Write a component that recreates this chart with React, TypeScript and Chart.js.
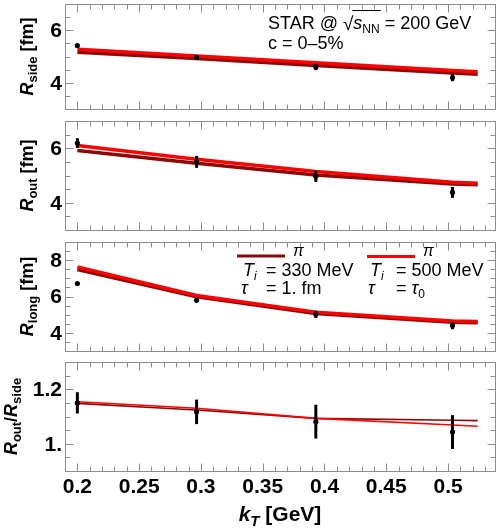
import React, { useEffect, useRef } from 'react';
import { Chart, registerables } from 'chart.js';

Chart.register(...registerables);

const W = 499;
const H = 532;
const FONT = '"Liberation Sans", Arial, sans-serif';

// ---------- data ----------
const modelKT = [0.2, 0.2965, 0.393, 0.5036, 0.524];
const dataKT = [0.2, 0.2965, 0.393, 0.5036];

const rsideData = [5.42, 4.97, 4.6, 4.2];
const rsideErr = [0.05, 0.06, 0.12, 0.14];
const rsideRed = [5.28, 5.02, 4.76, 4.47, 4.42];
const rsideDark = [5.16, 4.92, 4.66, 4.37, 4.32];

const routData = [6.19, 5.5, 4.97, 4.38];
const routErr = [0.18, 0.22, 0.21, 0.2];
const routRed = [6.1, 5.6, 5.15, 4.75, 4.72];
const routDark = [5.92, 5.45, 5.02, 4.69, 4.66];

const rlongData = [6.71, 5.79, 5.02, 4.4];
const rlongErr = [0.05, 0.05, 0.2, 0.2];
const rlongRed = [7.62, 6.06, 5.14, 4.65, 4.62];
const rlongDark = [7.48, 5.98, 5.06, 4.58, 4.55];

const ratioData = [1.15, 1.117, 1.081, 1.043];
const ratioErr = [0.039, 0.045, 0.062, 0.062];
const ratioRed = [1.154, 1.13, 1.093, 1.069, 1.064];
const ratioDark = [1.148, 1.124, 1.093, 1.086, 1.085];

const xMin = 0.19;
const xMax = 0.538;
const xTickValues = [0.2, 0.25, 0.3, 0.35, 0.4, 0.45, 0.5];
const xTickLabels = ['0.2', '0.25', '0.3', '0.35', '0.4', '0.45', '0.5'];
const xMinorStep = 0.01;

const rTickValues = [4, 6];
const rTickLabels = ['4', '6'];
const rlongTickValues = [4, 6, 8];
const rlongTickLabels = ['4', '6', '8'];
const ratioTickValues = [1.0, 1.2];
const ratioTickLabels = ['1.', '1.2'];

const DARK = '#8a0a0a';
const RED = '#ff0000';
const FRAME = '#8c8c8c';

type Seg = { t: string; font: string; dy?: number };

function segWidth(ctx: CanvasRenderingContext2D, segs: Seg[]) {
  let w = 0;
  for (const s of segs) {
    ctx.font = s.font;
    w += ctx.measureText(s.t).width;
  }
  return w;
}

function drawRich(
  ctx: CanvasRenderingContext2D,
  segs: Seg[],
  x: number,
  y: number,
  align: 'left' | 'center' | 'right',
  rotate = false,
  color = '#000'
) {
  ctx.save();
  ctx.translate(x, y);
  if (rotate) ctx.rotate(-Math.PI / 2);
  ctx.fillStyle = color;
  ctx.textAlign = 'left';
  ctx.textBaseline = 'alphabetic';
  const w = segWidth(ctx, segs);
  let cx = align === 'left' ? 0 : align === 'center' ? -w / 2 : -w;
  for (const s of segs) {
    ctx.font = s.font;
    ctx.fillText(s.t, cx, s.dy || 0);
    cx += ctx.measureText(s.t).width;
  }
  ctx.restore();
}

const B18 = `bold 18px ${FONT}`;
const BI18 = `italic bold 18px ${FONT}`;
const B13 = `bold 13px ${FONT}`;

type Panel = {
  top: number;
  bottom: number;
  yMin: number;
  yMax: number;
  yMinor: number;
  yTicks: number[];
  yLabels: string[];
  title: Seg[];
  titleX: number;
  data: number[];
  err: number[];
  red: number[];
  dark: number[];
  lineWidth: number;
  id: string;
};

const panels: Panel[] = [
  {
    id: 'side', top: 0, bottom: 109, yMin: 3, yMax: 7, yMinor: 0.5,
    yTicks: rTickValues, yLabels: rTickLabels,
    title: [{ t: 'R', font: BI18 }, { t: 'side', font: B13, dy: 4 }, { t: ' [fm]', font: B18 }],
    titleX: 33, data: rsideData, err: rsideErr, red: rsideRed, dark: rsideDark, lineWidth: 3.5,
  },
  {
    id: 'out', top: 121, bottom: 230, yMin: 3, yMax: 7, yMinor: 0.5,
    yTicks: rTickValues, yLabels: rTickLabels,
    title: [{ t: 'R', font: BI18 }, { t: 'out', font: B13, dy: 4 }, { t: ' [fm]', font: B18 }],
    titleX: 33, data: routData, err: routErr, red: routRed, dark: routDark, lineWidth: 3.5,
  },
  {
    id: 'long', top: 242, bottom: 351, yMin: 3, yMax: 9, yMinor: 0.5,
    yTicks: rlongTickValues, yLabels: rlongTickLabels,
    title: [{ t: 'R', font: BI18 }, { t: 'long', font: B13, dy: 4 }, { t: ' [fm]', font: B18 }],
    titleX: 33, data: rlongData, err: rlongErr, red: rlongRed, dark: rlongDark, lineWidth: 3.5,
  },
  {
    id: 'ratio', top: 362, bottom: 471, yMin: 0.9, yMax: 1.3, yMinor: 0.05,
    yTicks: ratioTickValues, yLabels: ratioTickLabels,
    title: [
      { t: 'R', font: BI18 }, { t: 'out', font: B13, dy: 4 }, { t: '/', font: B18 },
      { t: 'R', font: BI18 }, { t: 'side', font: B13, dy: 4 },
    ],
    titleX: 17, data: ratioData, err: ratioErr, red: ratioRed, dark: ratioDark, lineWidth: 1.6,
  },
];

function minorValues(min: number, max: number, step: number) {
  const out: number[] = [];
  const k0 = Math.ceil(min / step - 1e-6);
  const k1 = Math.floor(max / step + 1e-6);
  for (let k = k0; k <= k1; k++) out.push(+(k * step).toFixed(6));
  return out;
}

function drawSqrtAnnotation(ctx: CanvasRenderingContext2D) {
  const f = `18px ${FONT}`;
  const fi = `italic 18px ${FONT}`;
  const fs = `12px ${FONT}`;
  const y = 29;
  let x = 268;
  ctx.save();
  ctx.fillStyle = '#000';
  ctx.textBaseline = 'alphabetic';
  ctx.textAlign = 'left';
  ctx.font = f;
  ctx.fillText('STAR @ ', x, y);
  x += ctx.measureText('STAR @ ').width;
  ctx.font = `19px ${FONT}`;
  ctx.fillText('\u221A', x, y + 1);
  x += ctx.measureText('\u221A').width;
  const ox0 = x - 1;
  ctx.font = fi;
  ctx.fillText('s', x, y);
  x += ctx.measureText('s').width;
  ctx.font = fs;
  ctx.fillText('NN', x, y + 4);
  x += ctx.measureText('NN').width;
  const ox1 = x + 1;
  ctx.strokeStyle = '#000';
  ctx.lineWidth = 1;
  ctx.beginPath();
  ctx.moveTo(ox0, 10.5);
  ctx.lineTo(ox1, 10.5);
  ctx.stroke();
  ctx.font = f;
  ctx.fillText(' = 200 GeV', x, y);
  ctx.fillText('c = 0\u20135%', 268, 49);
  ctx.restore();
}

function drawLegend(ctx: CanvasRenderingContext2D) {
  const f = `18px ${FONT}`;
  const fi = `italic 18px ${FONT}`;
  const fi15 = `italic 16px ${FONT}`;
  const fs = `12px ${FONT}`;
  const fis = `italic 12px ${FONT}`;
  const entries = [
    { color: DARK, x0: 237, x1: 285, ly: 256, txtX: 241, eqX: 266, val: '330 MeV', tau: [{ t: '1. fm', font: f }] as Seg[] },
    { color: RED, x0: 367, x1: 415, ly: 256.5, txtX: 368, eqX: 396, val: '500 MeV', tau: [{ t: '\u03C4', font: fi }, { t: '0', font: fs, dy: 4 }] as Seg[] },
  ];
  ctx.save();
  for (const e of entries) {
    ctx.strokeStyle = e.color;
    ctx.lineWidth = 3;
    ctx.beginPath();
    ctx.moveTo(e.x0, e.ly);
    ctx.lineTo(e.x1, e.ly);
    ctx.stroke();
    drawRich(ctx, [{ t: '\u03C0', font: fi15 }], e.x1 + 8, 256, 'left');
    drawRich(ctx, [{ t: 'T', font: fi }, { t: 'i', font: fis, dy: 4 }], e.txtX + 2, 276, 'left');
    drawRich(ctx, [{ t: '= ' + e.val, font: f }], e.eqX, 276, 'left');
    drawRich(ctx, [{ t: '\u03C4', font: fi }], e.txtX, 294, 'left');
    drawRich(ctx, [{ t: '= ', font: f }, ...e.tau], e.eqX, 294, 'left');
  }
  ctx.restore();
}

function makePlugin(p: Panel, isBottom: boolean) {
  return {
    id: 'frame_' + p.id,
    afterDatasetsDraw(chart: any) {
      const ctx: CanvasRenderingContext2D = chart.ctx;
      const xs = chart.scales.x;
      const ys = chart.scales.y;
      ctx.save();
      ctx.strokeStyle = '#000';
      ctx.lineWidth = 3;
      ctx.lineCap = 'butt';
      for (let i = 0; i < dataKT.length; i++) {
        const px = xs.getPixelForValue(dataKT[i]);
        const y0 = ys.getPixelForValue(p.data[i] - p.err[i]);
        const y1 = ys.getPixelForValue(p.data[i] + p.err[i]);
        ctx.beginPath();
        ctx.moveTo(px, y0);
        ctx.lineTo(px, y1);
        ctx.stroke();
      }
      ctx.restore();
    },
    afterDraw(chart: any) {
      const ctx: CanvasRenderingContext2D = chart.ctx;
      const a = chart.chartArea;
      const xs = chart.scales.x;
      const ys = chart.scales.y;
      const L = Math.round(a.left) + 0.5;
      const R = Math.round(a.right) + 0.5;
      const T = Math.round(a.top) + 0.5;
      const Bt = Math.round(a.bottom) + 0.5;
      ctx.save();
      ctx.strokeStyle = FRAME;
      ctx.lineWidth = 1;
      ctx.strokeRect(L, T, R - L, Bt - T);
      ctx.beginPath();
      for (const v of minorValues(xMin, xMax, xMinorStep)) {
        const major = xTickValues.some((m) => Math.abs(m - v) < 1e-6);
        const len = major ? 8 : 5;
        const px = Math.round(xs.getPixelForValue(v)) + 0.5;
        ctx.moveTo(px, Bt);
        ctx.lineTo(px, Bt - len);
        ctx.moveTo(px, T);
        ctx.lineTo(px, T + len);
      }
      for (const v of minorValues(p.yMin, p.yMax, p.yMinor)) {
        const major = p.yTicks.some((m) => Math.abs(m - v) < 1e-6);
        const len = major ? 8 : 5;
        const py = Math.round(ys.getPixelForValue(v)) + 0.5;
        ctx.moveTo(L, py);
        ctx.lineTo(L + len, py);
        ctx.moveTo(R, py);
        ctx.lineTo(R - len, py);
      }
      ctx.stroke();
      ctx.restore();

      ctx.save();
      ctx.fillStyle = '#000';
      ctx.font = `bold 21px ${FONT}`;
      ctx.textAlign = 'right';
      ctx.textBaseline = 'middle';
      p.yTicks.forEach((v, i) => {
        ctx.fillText(p.yLabels[i], a.left - 3, ys.getPixelForValue(v) + 1);
      });
      ctx.restore();

      drawRich(ctx, p.title, p.titleX, (a.top + a.bottom) / 2, 'center', true);

      if (isBottom) {
        ctx.save();
        ctx.fillStyle = '#000';
        ctx.font = `bold 21px ${FONT}`;
        ctx.textAlign = 'center';
        ctx.textBaseline = 'alphabetic';
        xTickValues.forEach((v, i) => {
          ctx.fillText(xTickLabels[i], xs.getPixelForValue(v), 493);
        });
        ctx.restore();
        drawRich(
          ctx,
          [
            { t: 'k', font: `italic bold 21px ${FONT}` },
            { t: 'T', font: `italic bold 15px ${FONT}`, dy: 5 },
            { t: ' [GeV]', font: `bold 21px ${FONT}` },
          ],
          (a.left + a.right) / 2,
          521,
          'center'
        );
      }
      if (p.id === 'side') drawSqrtAnnotation(ctx);
      if (p.id === 'long') drawLegend(ctx);
    },
  };
}

function PanelChart({ p, isBottom }: { p: Panel; isBottom: boolean }) {
  const ref = useRef<HTMLCanvasElement | null>(null);
  useEffect(() => {
    if (!ref.current) return;
    const pts = (xs: number[], ys: number[]) => xs.map((x, i) => ({ x, y: ys[i] }));
    const chart = new Chart(ref.current, {
      type: 'line',
      data: {
        datasets: [
          {
            label: 'STAR',
            data: pts(dataKT, p.data),
            showLine: false,
            pointRadius: 2.6,
            pointBackgroundColor: '#000',
            pointBorderWidth: 0,
            borderColor: '#000',
            order: 0,
          },
          {
            label: 'Ti = 500 MeV',
            data: pts(modelKT, p.red),
            borderColor: RED,
            borderWidth: p.lineWidth,
            pointRadius: 0,
            tension: 0,
            fill: false,
            order: 1,
          },
          {
            label: 'Ti = 330 MeV',
            data: pts(modelKT, p.dark),
            borderColor: DARK,
            borderWidth: p.lineWidth,
            pointRadius: 0,
            tension: 0,
            fill: false,
            order: 2,
          },
        ],
      },
      options: {
        responsive: false,
        animation: false,
        events: [],
        layout: { padding: { left: 65, right: 1, top: p.top, bottom: H - p.bottom } },
        plugins: { legend: { display: false }, tooltip: { enabled: false } },
        scales: {
          x: { type: 'linear', min: xMin, max: xMax, display: false },
          y: { type: 'linear', min: p.yMin, max: p.yMax, display: false },
        },
      },
      plugins: [makePlugin(p, isBottom)],
    } as any);
    return () => chart.destroy();
  }, [p, isBottom]);
  return (
    <canvas
      ref={ref}
      width={W}
      height={H}
      style={{ position: 'absolute', left: 0, top: 0, width: W, height: H }}
    />
  );
}

export default function App() {
  return (
    <div style={{ position: 'absolute', left: 0, top: 0, width: W, height: H, background: '#fff' }}>
      {panels.map((p, i) => (
        <PanelChart key={p.id} p={p} isBottom={i === panels.length - 1} />
      ))}
    </div>
  );
}
